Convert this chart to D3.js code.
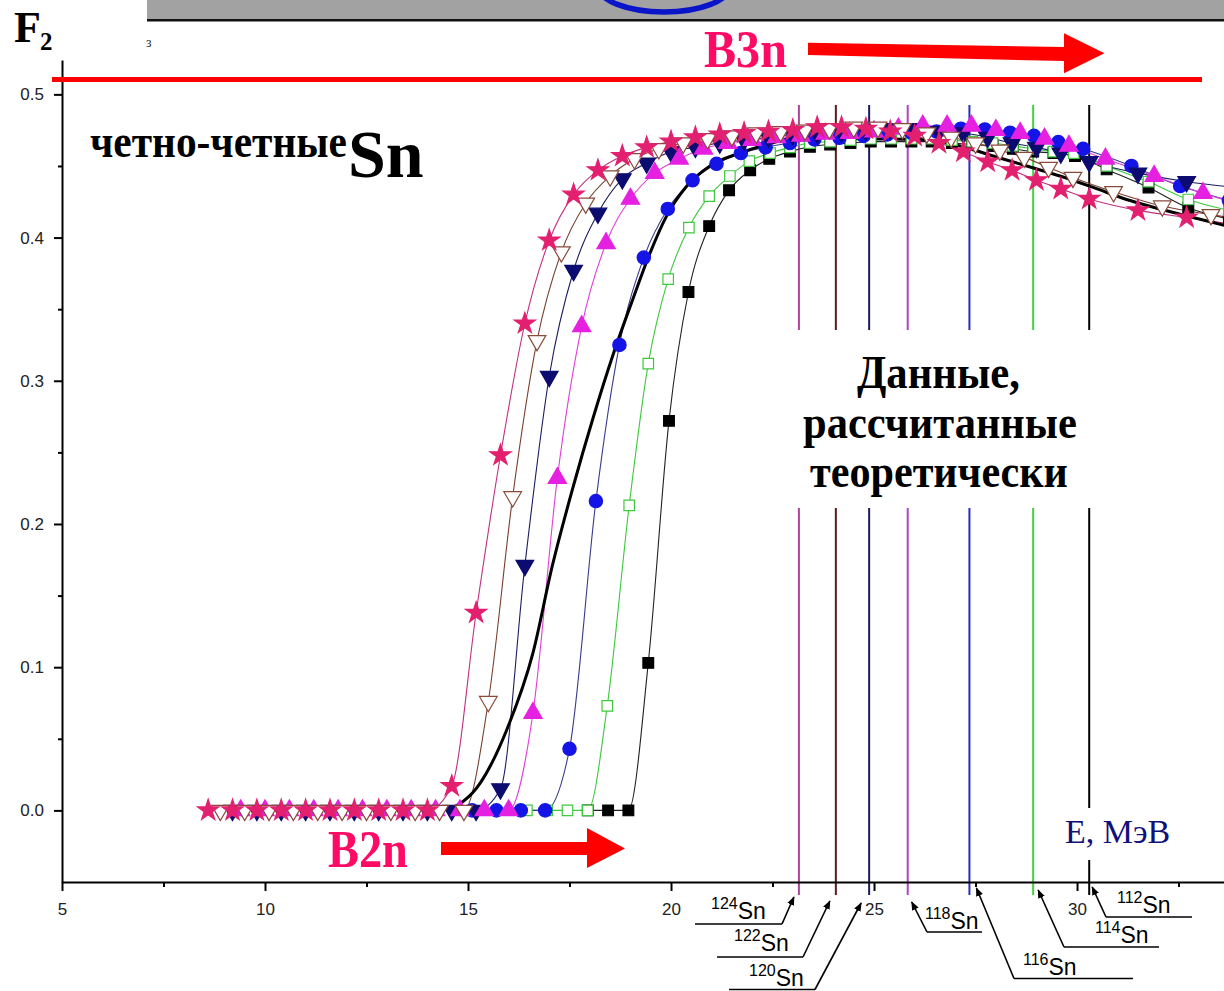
<!DOCTYPE html>
<html><head><meta charset="utf-8">
<script src="https://cdn.jsdelivr.net/npm/d3@7"></script>
<style>body{margin:0;background:#fff}svg{display:block}</style>
</head><body>
<svg id="c" width="1224" height="991"></svg>
<script>
// ---------------- DATA ----------------
const xTicks = [5, 10, 15, 20, 25, 30];
const xMinorTicks = [7.5, 12.5, 17.5, 22.5, 27.5, 32.5];
const yTicks = [0, 0.1, 0.2, 0.3, 0.4, 0.5];
const yMinorTicks = [0.05, 0.15, 0.25, 0.35, 0.45];

// 124Sn - stars
const s124X = [8.6,9.2,9.8,10.4,11.0,11.6,12.2,12.8,13.4,14.0,14.6,15.2,15.8,16.4,17.0,17.6,18.2,18.8,19.4,20.0,20.6,21.2,21.8,22.4,23.0,23.6,24.2,24.8,25.4,26.0,26.6,27.2,27.8,28.4,29.0,29.6,30.3,31.5,32.7,33.9];
const s124Y = [0,0,0,0,0,0,0,0,0,0,0.017,0.138,0.248,0.340,0.398,0.430,0.447,0.457,0.463,0.467,0.470,0.472,0.473,0.474,0.475,0.477,0.477,0.476,0.474,0.471,0.466,0.460,0.453,0.447,0.440,0.434,0.427,0.419,0.414,0.409];
// 122Sn - open down triangles
const s122X = [8.9,9.5,10.1,10.7,11.3,11.9,12.5,13.1,13.7,14.3,14.9,15.5,16.1,16.7,17.3,17.9,18.5,19.1,19.7,20.3,20.9,21.5,22.1,22.7,23.3,23.9,24.5,25.1,25.7,26.3,26.9,27.5,28.1,28.7,29.3,29.9,30.9,32.1,33.3,34.5];
const s122Y = [0,0,0,0,0,0,0,0,0,0,0,0.076,0.219,0.328,0.390,0.424,0.443,0.455,0.462,0.466,0.469,0.471,0.473,0.474,0.475,0.476,0.477,0.477,0.476,0.473,0.470,0.466,0.461,0.456,0.449,0.442,0.432,0.422,0.416,0.411];
// 120Sn - filled down triangles (navy)
const s120X = [9.2,9.8,10.4,11.0,11.6,12.2,12.8,13.4,14.0,14.6,15.2,15.8,16.4,17.0,17.6,18.2,18.8,19.4,20.0,20.6,21.2,21.8,22.4,23.0,23.6,24.2,24.8,25.4,26.0,26.6,27.2,27.8,28.4,29.0,29.6,30.3,31.5,32.7,33.9];
const s120Y = [0,0,0,0,0,0,0,0,0,0,0,0.015,0.171,0.303,0.377,0.417,0.441,0.452,0.460,0.463,0.466,0.468,0.470,0.472,0.473,0.474,0.475,0.476,0.476,0.474,0.473,0.470,0.466,0.463,0.459,0.453,0.445,0.439,0.435];
// 118Sn - filled up triangles (magenta)
const s118X = [9.4,10.0,10.6,11.2,11.8,12.4,13.0,13.6,14.2,14.8,15.4,16.0,16.6,17.2,17.8,18.4,19.0,19.6,20.2,20.8,21.4,22.0,22.6,23.2,23.8,24.4,25.0,25.6,26.2,26.8,27.4,28.0,28.6,29.2,29.8,30.7,31.9,33.1,34.3];
const s118Y = [0,0,0,0,0,0,0,0,0,0,0,0,0.068,0.232,0.338,0.396,0.427,0.445,0.455,0.462,0.466,0.468,0.470,0.471,0.4725,0.473,0.474,0.476,0.478,0.478,0.478,0.475,0.473,0.469,0.464,0.455,0.443,0.431,0.421];
// 116Sn - filled circles (blue)
const s116X = [15.1,15.7,16.3,16.9,17.5,18.15,18.73,19.33,19.92,20.53,21.12,21.72,22.33,22.93,23.53,24.15,24.74,25.33,25.93,26.54,27.14,27.73,28.35,28.94,29.54,30.15,31.34,32.54,33.74];
const s116Y = [0,0,0,0,0.043,0.216,0.325,0.386,0.420,0.440,0.4515,0.459,0.463,0.466,0.4685,0.4697,0.471,0.472,0.473,0.474,0.476,0.4755,0.4732,0.471,0.4667,0.462,0.450,0.436,0.426];
// 114Sn - open squares (green)
const s114X = [16.45,16.95,17.45,17.95,18.43,18.97,19.44,19.93,20.44,20.94,21.45,21.93,22.44,22.93,23.42,23.92,24.42,24.92,25.42,25.92,26.42,26.92,27.42,27.92,28.42,28.92,29.42,29.92,30.73,31.76,32.74,33.74];
const s114Y = [0,0,0,0,0.073,0.213,0.312,0.371,0.407,0.429,0.443,0.4534,0.459,0.463,0.466,0.467,0.468,0.469,0.469,0.469,0.469,0.468,0.467,0.466,0.464,0.462,0.460,0.459,0.450,0.439,0.4266,0.419];
// 112Sn - filled squares (black)
const s112X = [17.95,18.45,18.95,19.44,19.95,20.43,20.94,21.43,21.95,22.42,22.93,23.42,23.92,24.42,24.92,25.42,25.92,26.42,26.92,27.42,27.92,28.42,28.92,29.42,29.95,30.73,31.76,32.74,33.74];
const s112Y = [0,0,0,0.103,0.272,0.362,0.408,0.433,0.447,0.455,0.460,0.4634,0.465,0.466,0.467,0.467,0.467,0.467,0.466,0.465,0.464,0.462,0.460,0.459,0.457,0.4476,0.435,0.4208,0.413];
// thick black curve
const thickX = [14.5,15.3,15.95,16.6,17.07,17.59,18.08,18.57,19.06,19.48,19.89,20.39,20.96,21.70,22.36,23.18,24.82,26.05,27.12,27.93,28.76,29.58,30.4,31.22,32.04,32.86,33.7];
const thickY = [0,0.019,0.056,0.110,0.170,0.226,0.274,0.318,0.357,0.389,0.415,0.436,0.450,0.459,0.465,0.470,0.469,0.4685,0.464,0.457,0.450,0.443,0.435,0.4266,0.420,0.414,0.408];

// isotope threshold lines
const isoMass = ["124","122","120","118","116","114","112"];
const isoE = [23.15, 24.06, 24.88, 25.83, 27.35, 28.92, 30.30];

// ---------------- STYLE / LAYOUT ----------------
const isoColors = ["#b0449c","#5a1c1c","#1c1c5a","#b044c4","#2a2ac8","#40d040","#000000"];
const isoLabel = [
  {tx:711, ty:919, u1:695, u2:782, uy:924, side:"r", tdx:-5, ty2:897},
  {tx:734, ty:951, u1:717, u2:803, uy:957, side:"r", tdx:-6, ty2:901},
  {tx:749, ty:986, u1:729, u2:815, uy:989.5, side:"r", tdx:-8, ty2:903},
  {tx:925, ty:929, u1:927, u2:982, uy:932, side:"l", tdx:4, ty2:902},
  {tx:1023, ty:975, u1:1014, u2:1133, uy:978.5, side:"l", tdx:7, ty2:888},
  {tx:1095, ty:943, u1:1064, u2:1159, uy:947, side:"l", tdx:5, ty2:890},
  {tx:1117, ty:913, u1:1106, u2:1192, uy:917, side:"l", tdx:3, ty2:887}
];

const svg = d3.select("#c");
const x = d3.scaleLinear().domain([5, 33.62]).range([62, 1224]);
const y = d3.scaleLinear().domain([-0.05, 0.524]).range([882, 60]);

const SERIF = "'Liberation Serif','Times New Roman',serif";
const SANS = "'Liberation Sans',Arial,sans-serif";

function fit(sel, w) {
  const bb = sel.node().getBBox();
  const s = w / bb.width, x0 = bb.x;
  sel.attr("transform", `translate(${x0},0) scale(${s},1) translate(${-x0},0)`);
}

// top gray bar + blue ellipse
svg.append("rect").attr("x",147).attr("y",0).attr("width",1077).attr("height",19).attr("fill","#a2a2a2");
svg.append("rect").attr("x",147).attr("y",19).attr("width",1077).attr("height",2.5).attr("fill","#111");
svg.append("ellipse").attr("cx",664).attr("cy",-14).attr("rx",66).attr("ry",26)
  .attr("fill","none").attr("stroke","#0a14c8").attr("stroke-width",5.5);

// F2 label
svg.append("text").attr("x",14).attr("y",42).attr("font-family",SERIF).attr("font-weight","bold")
  .attr("font-size",44).text("F");
svg.append("text").attr("x",40).attr("y",50).attr("font-family",SERIF).attr("font-weight","bold")
  .attr("font-size",25).text("2");
svg.append("text").attr("x",146).attr("y",47).attr("font-family",SERIF).attr("font-size",14)
  .attr("fill","#333").text("з");

// isotope vertical lines
const vl = svg.append("g");
isoE.forEach((e,i) => {
  vl.append("line").attr("x1",x(e)).attr("x2",x(e)).attr("y1",y(0.4926)).attr("y2",y(-0.05)+13)
    .attr("stroke",isoColors[i]).attr("stroke-width",2);
});

// axes
const gx = svg.append("g").attr("transform","translate(0,882)")
  .call(d3.axisBottom(x).tickValues(xTicks).tickSize(9).tickSizeOuter(0).tickPadding(12).tickFormat(d3.format("d")));
const gxm = svg.append("g").attr("transform","translate(0,882)")
  .call(d3.axisBottom(x).tickValues(xMinorTicks).tickSize(5).tickSizeOuter(0).tickFormat(""));
gxm.select(".domain").remove();
const gy = svg.append("g").attr("transform","translate(62,0)")
  .call(d3.axisLeft(y).tickValues(yTicks).tickSize(8).tickSizeOuter(0).tickPadding(10).tickFormat(d3.format(".1f")));
const gym = svg.append("g").attr("transform","translate(62,0)")
  .call(d3.axisLeft(y).tickValues(yMinorTicks).tickSize(4).tickSizeOuter(0).tickFormat(""));
gym.select(".domain").remove();
[gx,gxm,gy,gym].forEach(g => {
  g.selectAll("path,line").attr("stroke","#000").attr("stroke-width",2);
  g.selectAll("text").attr("font-family",SANS).attr("font-size",17).attr("fill","#222");
});

// red horizontal line
svg.append("rect").attr("x",52).attr("y",77).attr("width",1150).attr("height",5).attr("fill","#ff0000");

// series
const series = [
  {X:s112X, Y:s112Y, sym:d3.symbolSquare, size:115, rot:0, fill:"#000", stroke:"#000", line:"#222"},
  {X:s114X, Y:s114Y, sym:d3.symbolSquare, size:110, rot:0, fill:"#fff", stroke:"#3ec83e", line:"#3ec83e"},
  {X:s116X, Y:s116Y, sym:d3.symbolCircle, size:140, rot:0, fill:"#1414e6", stroke:"#1414e6", line:"#3a3a90"},
  {X:s120X, Y:s120Y, sym:d3.symbolTriangle, size:135, rot:180, fill:"#0c0c70", stroke:"#0c0c70", line:"#1c1c60"},
  {X:s118X, Y:s118Y, sym:d3.symbolTriangle, size:145, rot:0, fill:"#e620e0", stroke:"#e620e0", line:"#e040d8"},
  {X:s122X, Y:s122Y, sym:d3.symbolTriangle, size:135, rot:180, fill:"#fff", stroke:"#8a4a3a", line:"#7a4030"},
  {X:s124X, Y:s124Y, sym:d3.symbolStar, size:140, rot:0, fill:"#e3206f", stroke:"#e3206f", line:"#c03080"}
];
const lineGen = d3.line().x(d => x(d[0])).y(d => y(d[1])).curve(d3.curveMonotoneX);
const gl = svg.append("g");
series.forEach(s => {
  const pts = s.X.map((v,i) => [v, s.Y[i]]);
  gl.append("path").attr("d", lineGen(pts)).attr("fill","none").attr("stroke",s.line).attr("stroke-width",1.1);
});
svg.append("path").attr("d", lineGen(thickX.map((v,i)=>[v,thickY[i]])))
  .attr("fill","none").attr("stroke","#000").attr("stroke-width",3);
const gm = svg.append("g");
series.forEach(s => {
  const pts = s.X.map((v,i) => [v, s.Y[i]]);
  gm.append("g").selectAll("path").data(pts).join("path")
    .attr("d", d3.symbol().type(s.sym).size(s.size))
    .attr("transform", d => `translate(${x(d[0])},${y(d[1])}) rotate(${s.rot})`)
    .attr("fill", s.fill).attr("stroke", s.stroke).attr("stroke-width", 1.2);
});

// white box with text
svg.append("rect").attr("x",790).attr("y",330).attr("width",305).attr("height",178).attr("fill","#fff");
const theo = [["Данные,",857,388,163],["рассчитанные",803,438,274],["теоретически",810,487,258]];
theo.forEach(t => {
  const el = svg.append("text").attr("x",t[1]).attr("y",t[2]).attr("font-family",SERIF)
    .attr("font-weight","bold").attr("font-size",46).attr("fill","#000").text(t[0]);
  fit(el, t[3]);
});

// E, MeV label
svg.append("rect").attr("x",1058).attr("y",808).attr("width",118).attr("height",52).attr("fill","#fff");
svg.append("text").attr("x",1065).attr("y",843).attr("font-family",SERIF).attr("font-size",34)
  .attr("fill","#10107a").text("E, МэВ");

// title
const t1 = svg.append("text").attr("x",90).attr("y",157).attr("font-family",SERIF).attr("font-weight","bold")
  .attr("font-size",46).text("четно-четные");
fit(t1, 257);
svg.append("text").attr("x",348).attr("y",177).attr("font-family",SERIF).attr("font-weight","bold")
  .attr("font-size",68).text("Sn");

// B3n / B2n
const b3 = svg.append("text").attr("x",704).attr("y",67).attr("font-family",SERIF).attr("font-weight","bold")
  .attr("font-size",52).attr("fill","#ff0a64").text("B3n");
fit(b3, 83);
const b2 = svg.append("text").attr("x",328).attr("y",867).attr("font-family",SERIF).attr("font-weight","bold")
  .attr("font-size",52).attr("fill","#ff0a64").text("B2n");
fit(b2, 80);
svg.append("polygon").attr("points","808,42.7 1064,47 1064,33.3 1104.5,53.3 1064,73.3 1064,61 808,55").attr("fill","#ff0000");
svg.append("polygon").attr("points","441,842 587,842 587,828 625,848.5 587,868 587,855 441,855").attr("fill","#ff0000");

// isotope labels with leader arrows
const defs = svg.append("defs");
defs.append("marker").attr("id","ah").attr("viewBox","0 0 10 10").attr("refX",9).attr("refY",5)
  .attr("markerWidth",9).attr("markerHeight",9).attr("orient","auto").attr("markerUnits","userSpaceOnUse")
  .append("path").attr("d","M0,1 L10,5 L0,9 Z").attr("fill","#000");
const ga = svg.append("g");
isoLabel.forEach((L,i) => {
  const t = ga.append("text").attr("x",L.tx).attr("y",L.ty).attr("font-family",SANS).attr("fill","#000");
  t.append("tspan").attr("font-size",16).attr("dy",-10).text(isoMass[i]);
  t.append("tspan").attr("font-size",23).attr("dy",10).text("Sn");
  ga.append("line").attr("x1",L.u1).attr("x2",L.u2).attr("y1",L.uy).attr("y2",L.uy)
    .attr("stroke","#000").attr("stroke-width",1.6);
  const sx = L.side === "r" ? L.u2 : L.u1;
  ga.append("line").attr("x1",sx).attr("y1",L.uy).attr("x2",x(isoE[i])+L.tdx).attr("y2",L.ty2)
    .attr("stroke","#000").attr("stroke-width",1.6).attr("marker-end","url(#ah)");
});
</script>
</body></html>
